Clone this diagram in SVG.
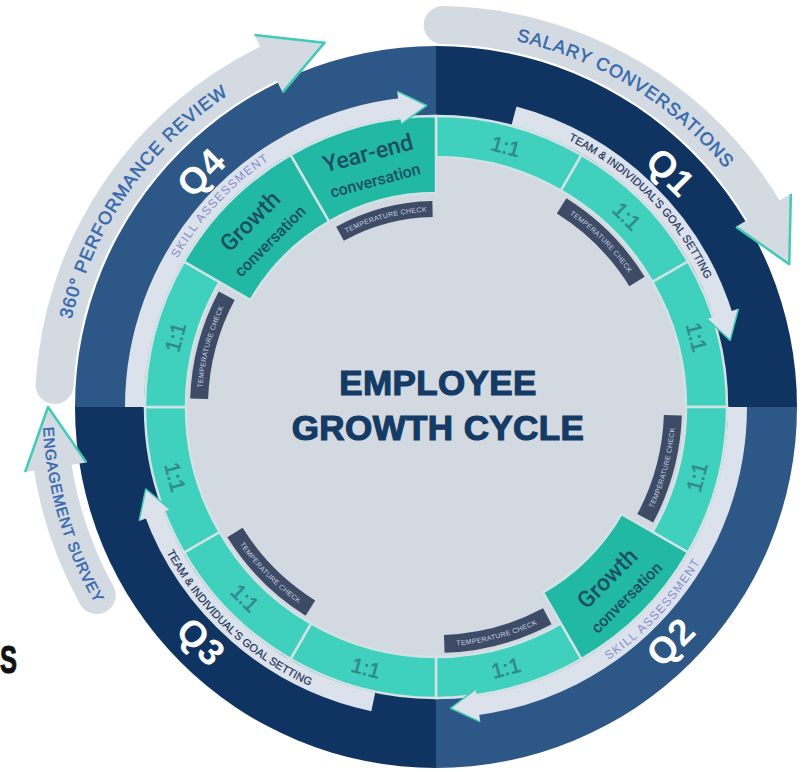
<svg xmlns="http://www.w3.org/2000/svg" xmlns:xlink="http://www.w3.org/1999/xlink" width="804" height="772" viewBox="0 0 804 772">
<style>
.qa{fill:#0f3462}
.qb{fill:#2d5786}
.bo{fill:none;stroke:#d4dae2;stroke-width:38;stroke-linecap:round}
.bi{fill:none;stroke:#dce2ec;stroke-width:19}
.ho{fill:#d4dae2}
.hi{fill:#dce2ec}
.he{fill:none;stroke:#40cbb6;stroke-width:2.5;stroke-linejoin:round}
.seg{fill:#40d0be;stroke:#d2e3e6;stroke-width:2.5}
.conv{fill:#21b8a4;stroke:#d2e3e6;stroke-width:2.5}
.tc{fill:#3d4b66}
.tct{font-family:"Liberation Sans",Arial,sans-serif;font-size:7px;fill:#c8d1e2;letter-spacing:0.3px}
.one{font-family:"Liberation Sans",Arial,sans-serif;font-size:21px;fill:#2f8a8c;stroke:#2f8a8c;stroke-width:0.6px;text-anchor:middle}
.qt{font-family:"Liberation Sans",Arial,sans-serif;font-size:37px;font-weight:bold;fill:#ffffff;text-anchor:middle;letter-spacing:1px}
.ct{font-family:Roboto,"Liberation Sans",Arial,sans-serif;font-weight:500;fill:#1d4f63;text-anchor:middle}
.ot{font-family:"Liberation Sans",Arial,sans-serif;fill:#3469ad;stroke:#3469ad;stroke-width:0.5px;letter-spacing:1px}
.it{font-family:"Liberation Sans",Arial,sans-serif;font-size:11px;fill:#1d3358;stroke:#1d3358;stroke-width:0.2px}
.sk{font-family:"Liberation Sans",Arial,sans-serif;font-size:12px;fill:#858dcc;letter-spacing:1.2px}
.title{font-family:"Liberation Sans",Arial,sans-serif;font-size:35px;font-weight:bold;fill:#143a66;stroke:#143a66;stroke-width:1.2px;text-anchor:middle;letter-spacing:0.4px}
</style>
<defs>
<path id="quarter" d="M436,407 L436,46 A361,361 0 0 1 797,407 Z"/>
<path id="seg" d="M436,116 A291,291 0 0 1 581.5,155 L561,190.5 A250,250 0 0 0 436,157 Z"/>
<path id="box" d="M436,116 A291,291 0 0 1 581.5,155 L543,221.7 A214,214 0 0 0 436,193 Z"/>
<path id="tcs" d="M380.65,167.3 A246,246 0 0 1 491.35,167.3 L487.3,184.8 A228,228 0 0 0 384.7,184.8 Z"/>
<path id="tcs2" d="M386.2,207.1 A206,206 0 0 1 485.8,207.1 L482,222.6 A190,190 0 0 0 390,222.6 Z"/>
<path id="tcTop" d="M355.8,186.64 A234.5,234.5 0 0 1 516.2,186.64"/>
<path id="tcBot" d="M354.1,632.06 A239.5,239.5 0 0 0 517.9,632.06"/>
<path id="tcTop2" d="M369.14,223.29 A195.5,195.5 0 0 1 502.86,223.29"/>
<path id="ibTop" d="M244.4,178.7 A298,298 0 0 1 627.6,178.7"/>
<path id="ibBot" d="M239.3,641.4 A306,306 0 0 0 632.7,641.4"/>
<path id="obTop" d="M194.95,119.75 A375,375 0 0 1 677.05,119.75"/>
<path id="obBot" d="M183.1,708.3 A393.4,393.4 0 0 0 688.9,708.3"/>
<polygon id="headO" points="436,-7 495.6,30.7 436,57"/>
<polyline id="edgeO" points="436,-7 495.6,30.7 436,57"/>
<polygon id="headE" points="436,-9 496.7,23.8 436,53"/>
<polyline id="edgeE" points="436,-9 496.7,23.8 436,53"/>
<polygon id="headI" points="436,89 463.5,106.65 436,122"/>
<polyline id="edgeI" points="436,89 463.5,106.65 436,122"/>
</defs>
<rect x="0" y="0" width="804" height="772" fill="#ffffff"/>

<g id="outer-bands">
<path class="bo" d="M442.7,25.1 A382,382 0 0 1 766.8,216"/>
<path class="bo" d="M54.6,385 A382,382 0 0 1 274.6,60.8"/>
<path class="bo" d="M96.7,595.1 A388,388 0 0 1 51.8,461"/>
</g>

<g id="quadrants">
<use href="#quarter" class="qa"/>
<use href="#quarter" class="qb" transform="rotate(90 436 407)"/>
<use href="#quarter" class="qa" transform="rotate(180 436 407)"/>
<use href="#quarter" class="qb" transform="rotate(270 436 407)"/>
</g>

<g id="outer-heads">
<g transform="rotate(59 436 407)"><use href="#headO" class="ho"/><use href="#edgeO" class="he"/></g>
<g transform="rotate(-26 436 407)"><use href="#headO" class="ho"/><use href="#edgeO" class="he"/></g>
<g transform="rotate(261 436 407)"><use href="#headE" class="ho"/><use href="#edgeE" class="he"/></g>
</g>

<circle id="inner-disk" cx="436" cy="407" r="291.5" fill="#d3d9e0"/>

<g id="inner-bands">
<path class="bi" d="M514,115.8 A301.5,301.5 0 0 1 724.3,318.8"/>
<path class="bi" d="M737.5,407 A301.5,301.5 0 0 1 472.75,706.2"/>
<path class="bi" d="M373.3,701.9 A301.5,301.5 0 0 1 152.7,510.1"/>
<path class="bi" d="M134.5,407 A301.5,301.5 0 0 1 404.5,107.2"/>
</g>

<g id="segments">
<use href="#seg" class="seg"/>
<use href="#seg" class="seg" transform="rotate(30 436 407)"/>
<use href="#seg" class="seg" transform="rotate(60 436 407)"/>
<use href="#seg" class="seg" transform="rotate(90 436 407)"/>
<use href="#seg" class="seg" transform="rotate(150 436 407)"/>
<use href="#seg" class="seg" transform="rotate(180 436 407)"/>
<use href="#seg" class="seg" transform="rotate(210 436 407)"/>
<use href="#seg" class="seg" transform="rotate(240 436 407)"/>
<use href="#seg" class="seg" transform="rotate(270 436 407)"/>
</g>

<g id="year-end-conversation">
<use href="#box" class="conv" transform="rotate(-30 436 407)"/>
<g transform="rotate(-15 436 407)">
<text class="ct" x="436" y="152" font-size="23">Year-end</text>
<text class="ct" x="436" y="178" font-size="16">conversation</text>
</g>
</g>
<g id="growth-conversation-q4">
<use href="#box" class="conv" transform="rotate(-60 436 407)"/>
<g transform="rotate(-45 436 407)">
<text class="ct" x="436" y="152" font-size="23">Growth</text>
<text class="ct" x="436" y="178" font-size="16">conversation</text>
</g>
</g>
<g id="growth-conversation-q2">
<use href="#box" class="conv" transform="rotate(120 436 407)"/>
<g transform="rotate(-45 436 407)">
<text class="ct" x="436" y="657" font-size="23">Growth</text>
<text class="ct" x="436" y="682" font-size="16">conversation</text>
</g>
</g>

<g id="inner-heads">
<g transform="rotate(72 436 407)"><use href="#headI" class="hi"/><use href="#edgeI" class="he" style="stroke-width:1.5"/></g>
<g transform="rotate(172 436 407)"><use href="#headI" class="hi"/><use href="#edgeI" class="he" style="stroke-width:1.5"/></g>
<g transform="rotate(249 436 407)"><use href="#headI" class="hi"/><use href="#edgeI" class="he" style="stroke-width:1.5"/></g>
<g transform="rotate(353 436 407)"><use href="#headI" class="hi"/><use href="#edgeI" class="he" style="stroke-width:1.5"/></g>
</g>

<g id="temperature-checks">
<g transform="rotate(45 436 407)"><use href="#tcs" class="tc"/><text class="tct" text-anchor="middle"><textPath href="#tcTop" startOffset="50%">TEMPERATURE CHECK</textPath></text></g>
<g transform="rotate(-75 436 407)"><use href="#tcs" class="tc"/><text class="tct" text-anchor="middle"><textPath href="#tcTop" startOffset="50%">TEMPERATURE CHECK</textPath></text></g>
<g transform="rotate(-15 436 407)"><use href="#tcs2" class="tc"/><text class="tct" text-anchor="middle"><textPath href="#tcTop2" startOffset="50%">TEMPERATURE CHECK</textPath></text></g>
<g transform="rotate(105 436 407)"><use href="#tcs" class="tc"/></g>
<g transform="rotate(165 436 407)"><use href="#tcs" class="tc"/></g>
<g transform="rotate(225 436 407)"><use href="#tcs" class="tc"/></g>
<text class="tct" text-anchor="middle" transform="rotate(-75 436 407)"><textPath href="#tcBot" startOffset="50%">TEMPERATURE CHECK</textPath></text>
<text class="tct" text-anchor="middle" transform="rotate(-15 436 407)"><textPath href="#tcBot" startOffset="50%">TEMPERATURE CHECK</textPath></text>
<text class="tct" text-anchor="middle" transform="rotate(45 436 407)"><textPath href="#tcBot" startOffset="50%">TEMPERATURE CHECK</textPath></text>
</g>

<g id="one-on-ones">
<text class="one" x="436" y="144.5" transform="rotate(15 436 407)">1:1</text>
<text class="one" x="436" y="144.5" transform="rotate(45 436 407)">1:1</text>
<text class="one" x="436" y="144.5" transform="rotate(75 436 407)">1:1</text>
<text class="one" x="436" y="144.5" transform="rotate(-75 436 407)">1:1</text>
<text class="one" x="436" y="684.5" transform="rotate(-75 436 407)">1:1</text>
<text class="one" x="436" y="684.5" transform="rotate(-15 436 407)">1:1</text>
<text class="one" x="436" y="684.5" transform="rotate(15 436 407)">1:1</text>
<text class="one" x="436" y="684.5" transform="rotate(45 436 407)">1:1</text>
<text class="one" x="436" y="684.5" transform="rotate(75 436 407)">1:1</text>
</g>

<g id="band-labels">
<text class="it" text-anchor="middle" transform="rotate(45.5 436 407)"><textPath href="#ibTop" startOffset="50%">TEAM &amp; INDIVIDUAL'S GOAL SETTING</textPath></text>
<text class="it" text-anchor="middle" transform="rotate(43 436 407)"><textPath href="#ibBot" startOffset="50%">TEAM &amp; INDIVIDUAL'S GOAL SETTING</textPath></text>
<text class="sk" text-anchor="middle" transform="rotate(-47 436 407)"><textPath href="#ibTop" startOffset="50%">SKILL ASSESSMENT</textPath></text>
<text class="sk" text-anchor="middle" transform="rotate(-47 436 407)"><textPath href="#ibBot" startOffset="50%">SKILL ASSESSMENT</textPath></text>
</g>

<g id="outer-labels">
<text class="ot" font-size="18" text-anchor="middle" transform="rotate(31.5 436 407)"><textPath href="#obTop" startOffset="50%">SALARY CONVERSATIONS</textPath></text>
<text class="ot" font-size="18" text-anchor="middle" transform="rotate(-55 436 407)"><textPath href="#obTop" startOffset="50%">360° PERFORMANCE REVIEW</textPath></text>
<text class="ot" font-size="15" style="letter-spacing:0.8px" text-anchor="middle" transform="rotate(73.5 436 407)"><textPath href="#obBot" startOffset="50%">ENGAGEMENT SURVEY</textPath></text>
</g>

<g id="quarter-labels">
<text class="qt" x="436" y="88" transform="rotate(45 436 407)">Q1</text>
<text class="qt" x="436" y="752" transform="rotate(-45 436 407)">Q2</text>
<text class="qt" x="436" y="752" transform="rotate(45 436 407)">Q3</text>
<text class="qt" x="436" y="88" transform="rotate(-45 436 407)">Q4</text>
</g>

<g id="title">
<text class="title" x="438" y="395">EMPLOYEE</text>
<text class="title" x="438" y="440">GROWTH CYCLE</text>
</g>

<text x="0" y="673" font-family="'Liberation Sans',Arial,sans-serif" font-size="38" font-weight="bold" fill="#111111" stroke="#111111" stroke-width="1" textLength="17" lengthAdjust="spacingAndGlyphs">S</text>
</svg>
